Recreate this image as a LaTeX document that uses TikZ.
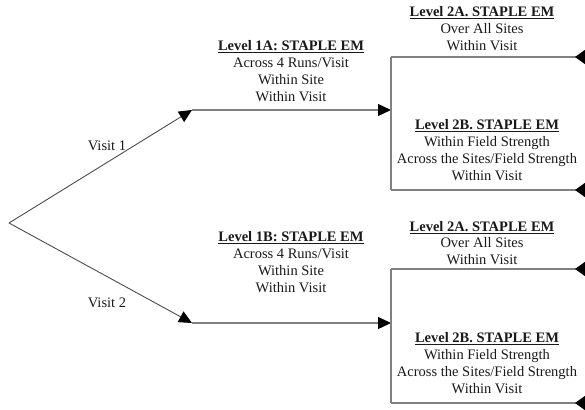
\documentclass[tikz,border=0pt]{standalone}
\usepackage{fontspec}
\setmainfont{Liberation Serif}
\usetikzlibrary{arrows.meta}

\begin{document}
\begin{tikzpicture}[
    x=1pt, y=-1pt,
    font=\fontsize{14.5}{16.8}\selectfont,
    branch/.style={-{Triangle[length=13pt,width=12pt,color=black]}, line width=0.9pt, draw=black!70},
    feed/.style={-{Triangle[length=13pt,width=12pt,color=black]}, line width=1.3pt, draw=black!50},
    rail/.style={line width=1.3pt, draw=black!50},
    exit/.style={-{Triangle[length=10pt,width=14pt,reversed,color=black]}, line width=1.3pt, draw=black!50},
    level/.style={align=center, inner sep=0pt, text=black!90},
    visit/.style={inner sep=0pt, text=black!90}
]
\useasboundingbox (0,0) rectangle (585,409);

% =========================================================
% Branch points
% =========================================================
\coordinate (root) at (9,223);
\coordinate (v1) at (192,110);
\coordinate (v2) at (192,323);

% Upper split
\coordinate (s1) at (391,110);
\coordinate (s1top) at (391,57);
\coordinate (s1bot) at (391,190);
\coordinate (e1top) at (585,57);
\coordinate (e1bot) at (585,190);

% Lower split
\coordinate (s2) at (391,323);
\coordinate (s2top) at (391,269);
\coordinate (s2bot) at (391,403);
\coordinate (e2top) at (585,269);
\coordinate (e2bot) at (585,403);

% =========================================================
% Connectors
% =========================================================
\draw[branch] (root) -- (v1);
\draw[branch] (root) -- (v2);

\draw[feed] (v1) -- (s1);
\draw[rail] (s1top) -- (s1bot);
\draw[exit] (s1top) -- (e1top);
\draw[exit] (s1bot) -- (e1bot);

\draw[feed] (v2) -- (s2);
\draw[rail] (s2top) -- (s2bot);
\draw[exit] (s2top) -- (e2top);
\draw[exit] (s2bot) -- (e2bot);

% =========================================================
% Labels
% =========================================================
\node[visit] (visit1) at (107,146) {Visit 1};
\node[visit] (visit2) at (107,303) {Visit 2};

\node[level] (lvl1a) at (291,71) {\underline{\textbf{Level 1A: STAPLE EM}}\\Across 4 Runs/Visit\\Within Site\\Within Visit};
\node[level] (lvl1b) at (291,262) {\underline{\textbf{Level 1B: STAPLE EM}}\\Across 4 Runs/Visit\\Within Site\\Within Visit};

\node[level] (lvl2a1) at (482,28.5) {\underline{\textbf{Level 2A. STAPLE EM}}\\Over All Sites\\Within Visit};
\node[level] (lvl2b1) at (487,150) {\underline{\textbf{Level 2B. STAPLE EM}}\\Within Field Strength\\Across the Sites/Field Strength\\Within Visit};

\node[level] (lvl2a2) at (482,243) {\underline{\textbf{Level 2A. STAPLE EM}}\\Over All Sites\\Within Visit};
\node[level] (lvl2b2) at (487,363) {\underline{\textbf{Level 2B. STAPLE EM}}\\Within Field Strength\\Across the Sites/Field Strength\\Within Visit};

\end{tikzpicture}
\end{document}
